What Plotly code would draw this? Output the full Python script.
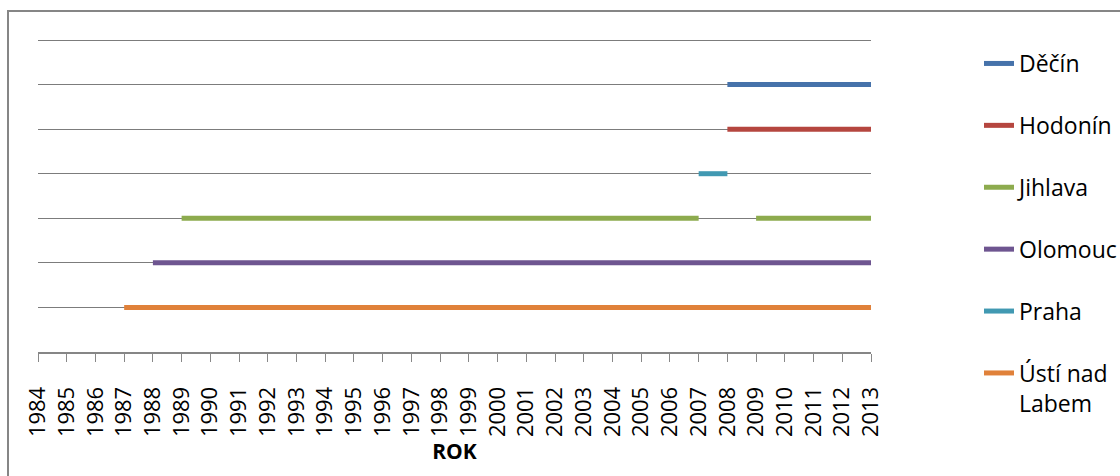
import plotly.graph_objects as go

years = list(range(1984, 2014))

# value = row level of each city; None = no data that year
decin   = [None]*24 + [6, 6, 6, 6, 6, 6]
hodonin = [None]*24 + [5, 5, 5, 5, 5, 5]
praha   = [None]*23 + [4, 4] + [None]*5
jihlava = [None]*5 + [3]*19 + [None] + [3, 3, 3, 3, 3]
olomouc = [None]*4 + [2]*26
usti    = [None]*3 + [1]*27

series_names = ["Děčín", "Hodonín", "Jihlava", "Olomouc", "Praha", "Ústí nad<br>Labem"]
series_vals = [decin, hodonin, jihlava, olomouc, praha, usti]
colors = ["#4672AA", "#B5463F", "#8DAB4E", "#6E5590", "#4199B2", "#E0813A"]

FONT = "Open Sans"
fig = go.Figure()
for name, vals, col in zip(series_names, series_vals, colors):
    fig.add_trace(go.Scatter(
        x=years, y=vals, mode="lines", name=name, legendgroup=name,
        line=dict(color=col, width=5), connectgaps=False,
    ))

L, R, T, B = 38, 871, 38, 352
W, H = 1120, 476
pw, ph = R - L, B - T
YTOP = 7 * ph / (ph - 2)   # puts the level-7 gridline 2px below the plot top (y=40)
LEG_TOP = 42

fig.update_layout(
    width=W, height=H,
    margin=dict(l=L, r=W - R, t=T, b=H - B, pad=0, autoexpand=False),
    paper_bgcolor="white", plot_bgcolor="white",
    font=dict(family=FONT, size=22, color="black"),
    showlegend=True,
    legend=dict(
        x=(979 - L) / pw, xanchor="left", y=1 + (T - LEG_TOP) / ph, yanchor="top",
        font=dict(family=FONT, size=23, color="black"),
        tracegroupgap=29, valign="top", bgcolor="rgba(0,0,0,0)",
    ),
    xaxis=dict(
        range=[1984, 2013], tickmode="linear", tick0=1984, dtick=1,
        tickangle=-90, ticks="outside", ticklen=8, tickcolor="#888888", tickwidth=1,
        showline=True, linecolor="#868686", linewidth=2,
        showgrid=False, zeroline=False, ticklabelstandoff=16,
        tickfont=dict(family=FONT, size=22, color="black"),
        title=dict(text="<b>ROK</b>", font=dict(family=FONT, size=21, color="black"), standoff=4),
    ),
    yaxis=dict(
        range=[0, YTOP], tickmode="linear", tick0=0, dtick=1,
        showgrid=True, gridcolor="#7C7C7C", gridwidth=1.2,
        showticklabels=False, ticks="", zeroline=False, showline=False,
    ),
    shapes=[dict(
        type="rect", xref="paper", yref="paper",
        x0=(8 - L) / pw, x1=(1130 - L) / pw,
        y0=(B - 490) / ph, y1=1 + (T - 11) / ph,
        line=dict(color="#868686", width=2), fillcolor="rgba(0,0,0,0)", layer="below",
    )],
)

try:
    fig.update_layout(legend_maxheight=440)
except Exception:
    # fallback: split entries over two legends so neither needs to scroll
    for i, tr in enumerate(fig.data):
        if i >= 4:
            tr.legend = "legend2"
    fig.update_layout(legend2=dict(
        x=(979 - L) / pw, xanchor="left", y=1 + (T - LEG_TOP - 4 * 62.3) / ph, yanchor="top",
        font=dict(family=FONT, size=23, color="black"),
        tracegroupgap=29, valign="top", bgcolor="rgba(0,0,0,0)",
    ))

fig.write_html("out.html")
